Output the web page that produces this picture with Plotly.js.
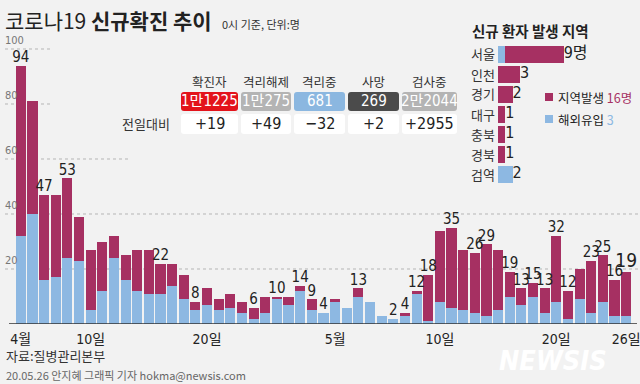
<!DOCTYPE html>
<html><head><meta charset="utf-8">
<script src="https://cdn.plot.ly/plotly-3.0.1.min.js"></script>
<style>body{margin:0;background:#f2f2f2}#c{width:640px;height:384px}</style>
</head><body><div id="c"></div>
<script>
const dates = ['4/4','4/5','4/6','4/7','4/8','4/9','4/10','4/11','4/12','4/13','4/14','4/15','4/16','4/17','4/18','4/19','4/20','4/21','4/22','4/23','4/24','4/25','4/26','4/27','4/28','4/29','4/30',
 '5/1','5/2','5/3','5/4','5/5','5/6','5/7','5/8','5/9','5/10','5/11','5/12','5/13','5/14','5/15','5/16','5/17','5/18','5/19','5/20','5/21','5/22','5/23','5/24','5/25','5/26'];
const totals = [94,81,47,47,53,39,27,30,32,25,27,27,22,22,18,8,13,9,11,8,6,10,10,10,14,9,4,
 9,6,13,8,3,2,4,12,18,34,35,27,26,29,27,19,13,15,13,32,12,20,23,25,16,19];
const imported = [32,40,16,17,24,23,5,12,24,16,12,11,11,14,9,5,7,5,6,4,2,4,9,7,12,5,4,
 8,6,10,8,3,2,3,11,1,8,6,5,4,3,5,10,7,10,4,8,2,9,4,8,3,3];
const labeledDates = ['4/4','4/6','4/8','4/16','4/19','4/24','4/26','4/28','4/29','4/30','5/3','5/6','5/7','5/8','5/9','5/11','5/13','5/14','5/16','5/17','5/18','5/19','5/20','5/21','5/23','5/24','5/25','5/26'];
const tickDates = ['4/4','4/10','4/20','5/1','5/10','5/20','5/26'];
const tickLabels = ['4월','10일','20일','5월','10일','20일','26일'];
const yTicks = [20,40,60,80,100];

const statLabels = ['확진자','격리해제','격리중','사망','검사중'];
const statValues = ['1만1225','1만275','681','269','2만2044'];
const statDeltas = ['+19','+49','−32','+2','+2955'];

const regions = ['서울','인천','경기','대구','충북','경북','검역'];
const regionLocal = [8,3,2,1,1,1,0];
const regionImport = [1,0,0,0,0,0,2];

const MAROON = '#a63062', BLUE = '#8db8e2';
const NARROW = 'Liberation Sans Narrow, DejaVu Sans Condensed, Noto Sans CJK KR, sans-serif';
const KR = 'Noto Sans CJK KR, sans-serif';
const X = p => p/640, Y = p => 1 - p/324;

const local = totals.map((t,i)=>t-imported[i]);
const lblY = labeledDates.map(d=>totals[dates.indexOf(d)]);
const lblSize = labeledDates.map((d,i)=> i===labeledDates.length-1 ? 19 : 15);

const traces = [
 {type:'bar', x:dates, y:imported, marker:{color:BLUE, line:{width:0}}, hoverinfo:'skip'},
 {type:'bar', x:dates, y:local, marker:{color:MAROON, line:{width:0}}, hoverinfo:'skip'},
 {type:'scatter', mode:'text', x:labeledDates, y:lblY, text:lblY.map(String), textposition:'top center',
  textfont:{family:NARROW, size:lblSize, color:'#222'}, hoverinfo:'skip', cliponaxis:false},
 {type:'bar', orientation:'h', x:regionImport, y:regions.map((r,i)=>i), xaxis:'x2', yaxis:'y2', width:0.85, marker:{color:BLUE}, hoverinfo:'skip'},
 {type:'bar', orientation:'h', x:regionLocal, y:regions.map((r,i)=>i), xaxis:'x2', yaxis:'y2', width:0.85, marker:{color:MAROON}, hoverinfo:'skip'},
 {type:'scatter', mode:'text', x:regionLocal.map((v,i)=>v+regionImport[i]), y:regions.map((r,i)=>i), xaxis:'x2', yaxis:'y2',
  text:regionLocal.map((v,i)=>(v+regionImport[i]) + (i===0?'명':'')), textposition:'middle right',
  textfont:{family:NARROW, size:16, color:'#222'}, hoverinfo:'skip', cliponaxis:false}
];

const shapes = [];
const gridLen = {20:640, 40:640, 60:130, 80:53, 100:50};
yTicks.forEach(v=>{
 shapes.push({type:'line', xref:'paper', yref:'y', x0:X(5), x1:X(gridLen[v]), y0:v, y1:v, layer:'below',
   line:{color:'#b5b5b5', width:1, dash:'3px,3px'}});
});
shapes.push({type:'line', xref:'paper', yref:'y', x0:X(9), x1:X(637), y0:0, y1:0, line:{color:'#333', width:1.5}});

function rrect(x0,y0,x1,y1,r,fill){
 const a=X(x0),b=X(x1),c=Y(y0),d=Y(y1),rx=r/640,ry=r/324;
 const path=`M ${a+rx},${c} L ${b-rx},${c} Q ${b},${c} ${b},${c-ry} L ${b},${d+ry} Q ${b},${d} ${b-rx},${d} L ${a+rx},${d} Q ${a},${d} ${a},${d+ry} L ${a},${c-ry} Q ${a},${c} ${a+rx},${c} Z`;
 shapes.push({type:'path', xref:'paper', yref:'paper', path, fillcolor:fill, line:{width:0}});
}
const boxes = [[181,238],[241,291],[294,345],[348,399],[402,457]];
const boxColors = ['#e3131b','#b4b4b4','#8bb7e0','#4b4b4b','#b4b4b4'];
const annotations = [];
function txt(x,y,text,size,color,family,anchor,extra){
 annotations.push(Object.assign({xref:'paper', yref:'paper', x:X(x), y:Y(y), text, showarrow:false,
  xanchor:anchor||'left', yanchor:'middle', font:{size, color:color||'#222', family:family||KR}}, extra||{}));
}
boxes.forEach((b,i)=>{
 rrect(b[0],92,b[1],111,3,boxColors[i]);
 rrect(b[0],114,b[1],134,3,'#ffffff');
 const cx=(b[0]+b[1])/2;
 txt(cx,81,statLabels[i],12.5,'#333',KR,'center');
 txt(cx,101.5,statValues[i],15,'#ffffff',NARROW,'center');
 txt(cx,124,statDeltas[i],16,'#222',NARROW,'center');
});
txt(172,124,'전일대비',13,'#333',KR,'right');

// title
txt(3,20,'코로나19 <b>신규확진 추이</b>',21,'#222',KR,'left');
txt(220,24,'0시 기준, 단위:명',11,'#333',KR,'left');

// y tick labels
yTicks.forEach(v=>{
 annotations.push({xref:'paper', yref:'y', x:X(3), y:v, yshift:9, text:String(v), showarrow:false, xanchor:'left', yanchor:'middle',
  font:{size:11, color:'#777', family:NARROW}});
});

// region panel
txt(470,31,'<b>신규 환자 발생 지역</b>',14.5,'#222',KR,'left');
regions.forEach((r,i)=>txt(469,54+20*i,r,13,'#333',KR,'left'));
shapes.push({type:'rect', xref:'paper', yref:'paper', x0:X(545), x1:X(553), y0:Y(93), y1:Y(101), fillcolor:MAROON, line:{width:0}});
shapes.push({type:'rect', xref:'paper', yref:'paper', x0:X(545), x1:X(553), y0:Y(115), y1:Y(123), fillcolor:BLUE, line:{width:0}});
txt(556,97,'지역발생 <span style="color:'+MAROON+'">16명</span>',12.5,'#222',KR,'left');
txt(556,119,'해외유입 <span style="color:'+BLUE+'">3</span>',12.5,'#222',KR,'left');

// footer
txt(4,355,'자료:질병관리본부',13,'#333',KR,'left');
txt(4,375,'20.05.26 안지혜 그래픽 기자 hokma@newsis.com',11,'#666',KR,'left');
txt(553,360,'<b><i>NEWSIS</i></b>',27,'#ffffff',NARROW,'center');

const layout = {
 width:640, height:384, margin:{l:0,r:0,t:0,b:60},
 paper_bgcolor:'#f2f2f2', plot_bgcolor:'rgba(0,0,0,0)',
 barmode:'stack', bargap:0.13, showlegend:false,
 xaxis:{type:'category', categoryorder:'array', categoryarray:dates, range:[-1.787,53.19], tickvals:tickDates, ticktext:tickLabels,
   showgrid:false, zeroline:false, showline:false, ticks:'outside', ticklen:2, tickcolor:'rgba(0,0,0,0)',
   tickfont:{family:NARROW, size:14, color:'#222'}, fixedrange:true},
 yaxis:{range:[0,117.82], showticklabels:false, showgrid:false, zeroline:false, fixedrange:true},
 xaxis2:{domain:[X(498),X(571)], anchor:'y2', range:[0,10], visible:false},
 yaxis2:{domain:[Y(184),Y(44)], anchor:'x2', range:[6.5,-0.5], visible:false},
 shapes, annotations
};
Plotly.newPlot('c', traces, layout, {staticPlot:true});
</script></body></html>
